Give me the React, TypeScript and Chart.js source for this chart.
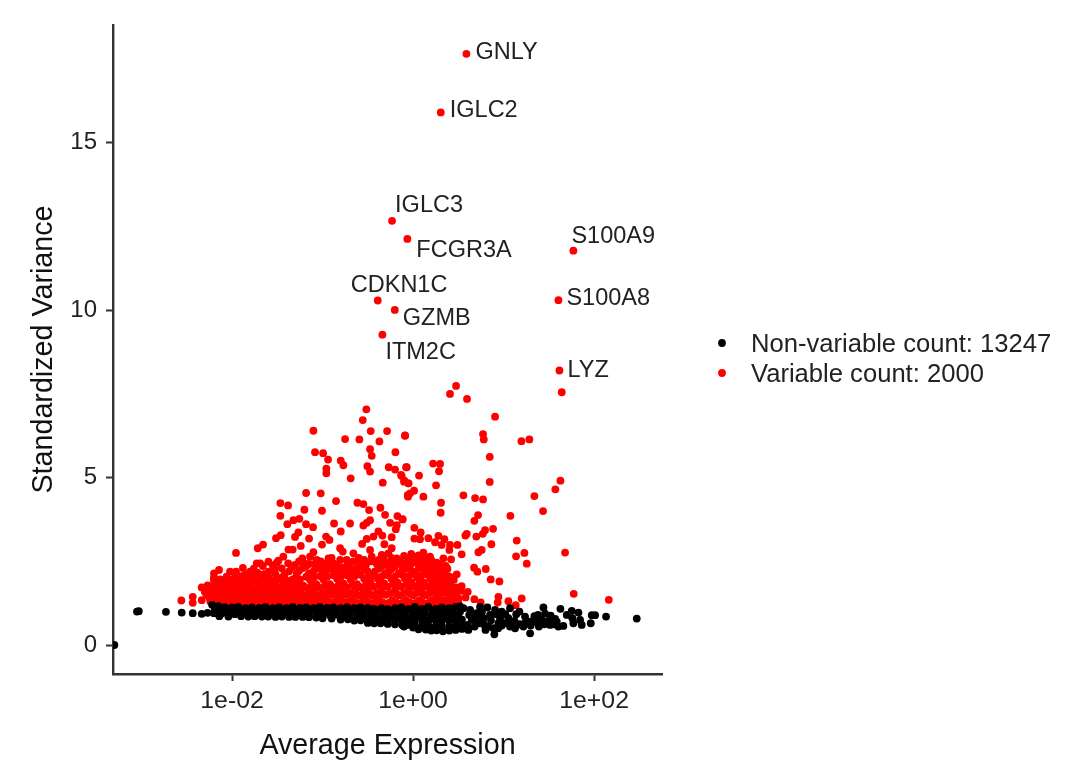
import React, { useEffect, useRef } from "react";
import { Chart, registerables } from "chart.js";

Chart.register(...registerables);

// x = log10(average expression), y = standardized variance
const xTickLabels: Record<number, string> = { [-2]: "1e-02", [0]: "1e+00", [2]: "1e+02" };
const yTicks = [0, 5, 10, 15];

const legendNames = ["Non-variable count: 13247", "Variable count: 2000"];

const geneNames = ["GNLY", "IGLC2", "IGLC3", "FCGR3A", "S100A9", "CDKN1C", "S100A8", "GZMB", "ITM2C", "LYZ"];
const genePoints: number[][] = [
  [0.589, 17.66], [0.306, 15.91], [-0.232, 12.67], [-0.063, 12.13], [1.771, 11.78],
  [-0.39, 10.29], [1.606, 10.3], [-0.202, 10.01], [-0.339, 9.27], [1.617, 8.2],
];
const geneLabelOffsets: number[][] = [
  [9, -1], [9, -2], [3, -15], [9, 12], [-2, -14], [-27, -15], [8, -2], [8, 9], [3, 18], [8, 0],
];

const variableSparse: number[][] = [
  [0.475, 7.74], [1.642, 7.55], [0.408, 7.5], [0.596, 7.35], [0.906, 6.82], [-0.089, 6.25], [0.773, 6.3], [0.781, 6.14],
  [1.197, 6.09], [1.285, 6.14], [0.847, 5.62], [0.221, 5.42], [0.298, 5.41], [0.287, 5.19], [-0.07, 5.31], [0.066, 5.06],
  [-0.126, 5.05], [-0.052, 4.83], [-0.1, 4.88], [0.254, 4.77], [0.847, 4.87], [1.628, 4.91], [1.572, 4.65], [0.011, 4.61],
  [-0.033, 4.53], [-0.056, 4.43], [0.114, 4.43], [0.556, 4.47], [0.685, 4.39], [0.773, 4.35], [1.34, 4.45], [0.309, 4.25],
  [1.436, 4.0], [0.305, 3.95], [1.075, 3.86], [0.718, 3.88], [0.677, 3.71], [-0.115, 3.75], [0.884, 3.47], [0.014, 3.5],
  [0.795, 3.43], [0.77, 3.32], [0.084, 3.36], [0.593, 3.32], [0.578, 3.27], [0.699, 3.24], [0.014, 3.18], [0.077, 3.16],
  [0.169, 3.19], [0.28, 3.26], [0.346, 3.16], [0.243, 3.07], [0.316, 2.99], [0.49, 2.99], [0.408, 2.99], [0.401, 2.84],
  [1.145, 3.12], [0.865, 3.01], [0.758, 2.84], [0.722, 2.77], [0.537, 2.71], [0.114, 2.76], [1.23, 2.75], [1.138, 2.65],
  [1.679, 2.76], [1.256, 2.43], [0.335, 2.59], [0.42, 2.56], [0.187, 2.64], [0.674, 2.31], [0.711, 2.19], [0.803, 2.27],
  [0.858, 1.96], [0.954, 1.9], [0.482, 2.11], [0.537, 1.76], [0.482, 1.72], [0.604, 1.59], [0.677, 1.37], [0.747, 1.27],
  [0.943, 1.44], [0.935, 1.27], [1.053, 1.31], [1.134, 1.19], [1.2, 1.39], [1.775, 1.53], [2.162, 1.35], [0.5, 1.27],
  [-0.516, 7.04], [-0.556, 6.72], [-1.101, 6.4], [-0.468, 6.39], [-0.287, 6.39], [-0.088, 6.26], [-0.751, 6.15], [-0.593, 6.14],
  [-0.372, 6.08], [-0.475, 5.85], [-0.195, 5.76], [-1.083, 5.76], [-0.994, 5.73], [-0.457, 5.65], [-0.939, 5.54], [-0.799, 5.51],
  [-0.77, 5.37], [-0.505, 5.34], [-0.475, 5.18], [-0.269, 5.31], [-0.199, 5.24], [-0.077, 5.31], [-0.958, 5.27], [-0.958, 5.13],
  [-0.689, 4.98], [-0.133, 5.08], [-0.096, 4.91], [-0.335, 4.85], [-0.05, 4.83], [-1.182, 4.54], [-1.02, 4.53], [-0.059, 4.48],
  [-0.851, 4.3], [-1.466, 4.24], [-1.381, 4.17], [-0.615, 4.25], [-0.549, 4.21], [-1.201, 4.04], [-1.006, 4.01], [-0.486, 4.03],
  [-0.361, 4.1], [-0.309, 3.89], [-1.466, 3.86], [-0.173, 3.85], [-0.118, 3.76], [-1.256, 3.77], [-1.322, 3.73], [-1.389, 3.61],
  [-1.182, 3.61], [-1.105, 3.52], [-0.873, 3.63], [-0.696, 3.63], [-0.475, 3.73], [-0.512, 3.65], [-0.549, 3.57], [-0.254, 3.65],
  [-0.18, 3.58], [-0.191, 3.46], [-0.799, 3.39], [-0.383, 3.39], [-0.339, 3.27], [-0.236, 3.22], [-1.267, 3.36], [-1.304, 3.23],
  [-1.462, 3.28], [-1.514, 3.19], [-1.149, 3.18], [-0.961, 3.24], [-0.924, 3.14], [-0.438, 3.24], [-0.512, 3.17], [-0.563, 3.02],
  [-0.317, 3.01], [-1.657, 3.0], [-1.716, 2.89], [-1.241, 2.96], [-1.006, 3.0], [-1.956, 2.75], [-1.377, 2.85], [-1.33, 2.85],
  [-1.101, 2.77], [-2.56, 1.33], [-2.434, 1.44], [-2.434, 1.26], [-2.335, 1.72], [-2.335, 1.34], [-2.26, 1.74],
];

const variableUpper: number[][] = [
  [-2.144, 2.24], [-2.199, 2.14], [-2.022, 2.19], [-1.956, 2.19], [-1.801, 2.19], [-1.727, 2.44], [-1.69, 2.44], [-1.598, 2.49],
  [-1.598, 2.19], [-1.506, 2.46], [-1.451, 2.29], [-1.433, 2.64], [-1.488, 2.52], [-1.304, 2.39], [-1.285, 2.14], [-1.223, 2.59],
  [-1.138, 2.64], [-1.064, 2.54], [-0.935, 2.59], [-0.806, 2.89], [-0.777, 2.79], [-0.806, 2.54], [-0.733, 2.54], [-0.659, 2.74],
  [-0.586, 2.44], [-0.475, 2.84], [-0.457, 2.64], [-0.328, 2.59], [-0.273, 2.74], [-0.236, 2.89], [-0.18, 2.59], [-0.07, 2.44],
  [-0.346, 2.69], [-1.15, 2.42], [-1.0, 2.38], [-0.88, 2.44], [-0.7, 2.36], [-0.62, 2.3], [-0.52, 2.4], [-0.4, 2.42],
  [-0.28, 2.4], [-0.22, 2.48], [-0.12, 2.38], [0.0, 2.56], [0.04, 2.46], [-0.03, 2.4], [0.1, 2.42], [0.17, 2.4], [0.24, 2.34], [0.32, 2.3],
  [-0.05, 2.6], [0.02, 2.62], [0.08, 2.58], [0.16, 2.5], [0.26, 2.46], [-0.14, 2.52],
  [-1.88, 2.3], [-1.76, 2.28], [-1.66, 2.36], [-1.55, 2.38], [-1.38, 2.44], [-1.26, 2.5], [-1.2, 2.44], [-1.08, 2.44], [-1.02, 2.5], [-0.95, 2.44],
  [-0.9, 2.6], [-0.84, 2.38], [-0.72, 2.46], [-0.66, 2.5], [-0.6, 2.6], [-0.54, 2.54], [-0.46, 2.5], [-0.38, 2.54], [-0.3, 2.46], [-0.24, 2.6],
  [-0.16, 2.46], [-0.1, 2.66], [-0.02, 2.72], [0.06, 2.68], [0.12, 2.6], [0.2, 2.54], [0.3, 2.4], [0.36, 2.36], [0.38, 2.28], [0.13, 2.34],
];

const variableDense: number[][] = [
  [-2.2, 2.02], [-2.13, 1.96], [-2.06, 2.04], [-1.98, 1.98], [-1.9, 2.06], [-1.83, 1.98], [-1.76, 2.08], [-1.68, 2.0], [-1.6, 2.04],
  [-1.52, 2.12], [-1.45, 2.02], [-1.37, 2.2], [-1.3, 2.0], [-1.22, 2.3], [-1.15, 2.14], [-1.08, 2.28], [-1.0, 2.16], [-0.93, 2.3], [-0.85, 2.16],
  [-0.77, 2.32], [-0.7, 2.14], [-0.62, 2.16], [-0.54, 2.26], [-0.46, 2.1], [-0.38, 2.28], [-0.31, 2.14], [-0.24, 2.26], [-0.16, 2.14], [-0.08, 2.28],
  [-0.01, 2.2], [0.06, 2.28], [0.13, 2.16], [0.2, 2.24], [0.27, 2.14], [0.34, 2.18], [0.39, 2.06],
  [-2.27, 1.78], [-2.19, 1.84], [-2.12, 1.76], [-2.04, 1.86], [-1.97, 1.78], [-1.89, 1.86], [-1.82, 1.76], [-1.74, 1.88], [-1.67, 1.8], [-1.59, 1.86],
  [-1.52, 1.78], [-1.44, 1.9], [-1.37, 1.8], [-1.29, 1.88], [-1.22, 1.78], [-1.14, 1.96], [-1.07, 1.82], [-0.99, 1.96], [-0.92, 1.82], [-0.84, 1.98],
  [-0.77, 1.84], [-0.69, 1.96], [-0.62, 1.82], [-0.54, 1.98], [-0.47, 1.86], [-0.39, 1.98], [-0.32, 1.84], [-0.24, 1.98], [-0.17, 1.86], [-0.09, 1.98],
  [-0.02, 1.88], [0.05, 2.0], [0.12, 1.86], [0.19, 1.98], [0.26, 1.88], [0.33, 1.96], [0.4, 1.84], [0.45, 1.95],
  [-2.3, 1.58], [-2.23, 1.62], [-2.15, 1.56], [-2.08, 1.64], [-2.0, 1.56], [-1.93, 1.66], [-1.85, 1.58], [-1.78, 1.66], [-1.7, 1.58], [-1.63, 1.66],
  [-1.55, 1.58], [-1.48, 1.68], [-1.4, 1.58], [-1.33, 1.66], [-1.25, 1.58], [-1.18, 1.7], [-1.1, 1.6], [-1.03, 1.7], [-0.95, 1.6], [-0.88, 1.72],
  [-0.8, 1.62], [-0.73, 1.72], [-0.65, 1.6], [-0.58, 1.72], [-0.5, 1.62], [-0.43, 1.74], [-0.35, 1.62], [-0.28, 1.74], [-0.2, 1.62], [-0.13, 1.74],
  [-0.05, 1.62], [0.02, 1.76], [0.09, 1.62], [0.16, 1.74], [0.23, 1.62], [0.3, 1.72], [0.37, 1.62], [0.44, 1.68], [0.53, 1.62],
  [-2.25, 1.42], [-2.18, 1.38], [-2.1, 1.44], [-2.03, 1.38], [-1.95, 1.44], [-1.88, 1.38], [-1.8, 1.46], [-1.73, 1.38], [-1.65, 1.46], [-1.58, 1.38],
  [-1.5, 1.46], [-1.43, 1.38], [-1.35, 1.46], [-1.28, 1.38], [-1.2, 1.48], [-1.13, 1.38], [-1.05, 1.48], [-0.98, 1.38], [-0.9, 1.5], [-0.83, 1.38],
  [-0.75, 1.5], [-0.68, 1.36], [-0.6, 1.48], [-0.53, 1.36], [-0.45, 1.48], [-0.38, 1.36], [-0.3, 1.5], [-0.23, 1.34], [-0.15, 1.48], [-0.08, 1.34],
  [0.0, 1.48], [0.07, 1.34], [0.14, 1.48], [0.21, 1.34], [0.28, 1.46], [0.35, 1.34], [0.42, 1.44], [0.5, 1.4], [0.58, 1.42],
  [-2.2, 1.2], [-2.12, 1.22], [-2.05, 1.2], [-1.97, 1.22], [-1.9, 1.2], [-1.82, 1.22], [-1.75, 1.2], [-1.67, 1.22], [-1.6, 1.2], [-1.52, 1.22],
  [-1.45, 1.2], [-1.37, 1.22], [-1.3, 1.2], [-1.22, 1.22], [-1.15, 1.2], [-1.07, 1.22], [-1.0, 1.2], [-0.92, 1.22], [-0.85, 1.2], [-0.77, 1.22],
  [-0.7, 1.2], [-0.62, 1.2], [-0.55, 1.18], [-0.47, 1.2], [-0.4, 1.18], [-0.32, 1.2], [-0.25, 1.18], [-0.17, 1.2], [-0.1, 1.18], [-0.02, 1.2],
  [0.05, 1.18], [0.12, 1.2], [0.2, 1.18], [0.27, 1.2], [0.34, 1.18], [0.42, 1.2],
];

const variableFill: number[][] = [
  [-2.24, 1.3], [-2.14, 1.31], [-2.06, 1.29], [-1.99, 1.32], [-1.92, 1.29], [-1.84, 1.31], [-1.77, 1.3], [-1.69, 1.31], [-1.62, 1.29], [-1.54, 1.32],
  [-1.47, 1.29], [-1.39, 1.31], [-1.32, 1.29], [-1.24, 1.32], [-1.17, 1.29], [-1.09, 1.31], [-1.02, 1.29], [-0.94, 1.31], [-0.87, 1.29], [-0.79, 1.31],
  [-0.72, 1.29], [-0.64, 1.28], [-0.57, 1.27], [-0.49, 1.28], [-0.42, 1.27], [-0.34, 1.28], [-0.27, 1.26], [-0.19, 1.28], [-0.12, 1.26], [-0.04, 1.27],
  [0.03, 1.26], [0.1, 1.27], [0.17, 1.26], [0.24, 1.27], [0.31, 1.26], [0.38, 1.27], [0.46, 1.3],
  [-2.28, 1.5], [-2.2, 1.52], [-2.13, 1.5], [-2.05, 1.51], [-1.98, 1.49], [-1.9, 1.52], [-1.83, 1.5], [-1.75, 1.52], [-1.68, 1.5], [-1.6, 1.52],
  [-1.53, 1.5], [-1.45, 1.53], [-1.38, 1.5], [-1.3, 1.52], [-1.23, 1.5], [-1.15, 1.54], [-1.08, 1.5], [-1.0, 1.54], [-0.93, 1.5], [-0.85, 1.55],
  [-0.78, 1.53], [-0.7, 1.55], [-0.63, 1.52], [-0.55, 1.54], [-0.48, 1.52], [-0.4, 1.55], [-0.33, 1.52], [-0.25, 1.55], [-0.18, 1.52], [-0.1, 1.55],
  [-0.03, 1.53], [0.04, 1.56], [0.11, 1.53], [0.18, 1.55], [0.25, 1.53], [0.32, 1.55], [0.39, 1.53], [0.47, 1.54],
  [-2.25, 1.7], [-2.17, 1.7], [-2.1, 1.71], [-2.02, 1.7], [-1.95, 1.72], [-1.87, 1.7], [-1.8, 1.72], [-1.72, 1.7], [-1.65, 1.73], [-1.57, 1.71],
  [-1.5, 1.73], [-1.42, 1.72], [-1.35, 1.73], [-1.27, 1.72], [-1.2, 1.74], [-1.12, 1.78], [-1.05, 1.74], [-0.97, 1.78], [-0.9, 1.74], [-0.82, 1.8],
  [-0.75, 1.74], [-0.67, 1.8], [-0.6, 1.74], [-0.52, 1.8], [-0.45, 1.75], [-0.37, 1.8], [-0.3, 1.75], [-0.22, 1.82], [-0.15, 1.76], [-0.07, 1.82],
  [0.0, 1.75], [0.07, 1.82], [0.14, 1.76], [0.21, 1.82], [0.28, 1.76], [0.35, 1.8], [0.42, 1.76],
  [-2.2, 1.92], [-2.11, 1.88], [-2.02, 1.94], [-1.94, 1.92], [-1.86, 1.9], [-1.78, 1.94], [-1.7, 1.92], [-1.63, 1.94], [-1.55, 1.92], [-1.48, 1.96],
  [-1.4, 1.94], [-1.33, 1.96], [-1.25, 1.96], [-1.18, 2.04], [-1.1, 2.02], [-1.03, 2.06], [-0.95, 2.04], [-0.88, 2.08], [-0.8, 2.04], [-0.73, 2.08],
  [-0.65, 2.04], [-0.58, 2.1], [-0.5, 2.02], [-0.43, 2.06], [-0.35, 2.04], [-0.28, 2.08], [-0.2, 2.04], [-0.12, 2.1], [-0.05, 2.06], [0.02, 2.1],
  [0.09, 2.06], [0.16, 2.1], [0.23, 2.04], [0.3, 2.06], [0.37, 1.98], [0.43, 2.02],
  [-1.95, 2.08], [-1.85, 2.1], [-1.72, 2.16], [-1.65, 2.12], [-1.53, 2.28], [-1.42, 2.12], [-1.34, 2.32], [-1.26, 2.22], [-1.18, 2.36], [-1.1, 2.2],
  [-1.03, 2.3], [-0.96, 2.22], [-0.88, 2.24], [-0.8, 2.2], [-0.73, 2.26], [-0.66, 2.24], [-0.58, 2.36], [-0.5, 2.2], [-0.42, 2.2], [-0.34, 2.36],
  [-0.27, 2.2], [-0.2, 2.34], [-0.12, 2.22], [-0.04, 2.34], [0.03, 2.18], [0.09, 2.36], [0.16, 2.3], [0.23, 2.16], [0.3, 2.22],
];

const nonVariableSparse: number[][] = [
  [-3.3, 0.0], [-3.05, 1.0], [-3.03, 1.01], [-2.73, 0.99], [-2.556, 0.97], [-2.434, 0.95], [-2.335, 0.93], [-2.27, 0.96],
  [2.471, 0.79], [2.132, 0.85], [2.011, 0.89], [1.974, 0.89], [1.963, 0.65], [1.863, 0.6], [1.771, 0.65], [1.827, 0.97],
  [1.753, 1.02], [1.698, 0.9], [1.76, 0.8], [1.845, 0.75], [1.628, 1.08], [1.44, 1.12], [1.458, 0.94], [1.513, 0.8],
  [1.587, 0.7], [1.66, 0.57], [1.605, 0.55], [1.513, 0.6], [1.421, 0.75], [1.348, 0.7], [1.293, 0.35], [1.285, 0.7],
  [1.237, 0.85], [1.175, 1.0], [1.219, 0.55], [1.127, 0.5], [1.071, 0.55], [1.053, 0.8], [1.071, 1.1], [0.979, 1.0],
  [0.961, 0.8], [1.0, 0.65], [0.898, 0.32], [0.887, 0.5], [0.821, 1.12], [0.74, 1.14], [0.703, 0.95], [0.777, 0.8],
  [0.85, 0.9], [0.906, 1.05], [0.943, 0.65], [0.832, 0.55], [0.722, 0.65], [0.63, 1.05], [0.648, 0.75], [0.611, 0.45],
  [0.556, 1.1], [0.519, 1.15], [1.39, 0.55], [1.45, 0.62], [1.55, 0.62],
  [0.62, 0.9], [0.68, 0.55], [0.7, 0.82], [0.76, 0.98], [0.78, 0.62], [0.8, 0.45], [0.86, 0.74], [0.92, 0.92], [0.94, 0.5], [0.98, 0.58],
  [1.02, 0.92], [1.08, 0.66], [1.12, 0.72], [1.14, 0.92], [1.18, 0.62], [1.24, 0.66], [1.3, 0.58], [1.34, 0.86], [1.38, 0.9], [1.48, 0.7],
  [1.52, 0.88], [1.57, 0.78],
];

const nonVariableDense: number[][] = [
  [-2.22, 1.2], [-2.15, 1.16], [-2.08, 1.13], [-2.0, 1.12], [-1.93, 1.14], [-1.85, 1.1], [-1.78, 1.12], [-1.7, 1.11], [-1.63, 1.14], [-1.55, 1.1],
  [-1.48, 1.13], [-1.4, 1.1], [-1.33, 1.14], [-1.25, 1.11], [-1.18, 1.12], [-1.1, 1.1], [-1.03, 1.14], [-0.95, 1.11], [-0.88, 1.12], [-0.8, 1.1],
  [-0.73, 1.13], [-0.65, 1.1], [-0.58, 1.12], [-0.5, 1.11], [-0.43, 1.08], [-0.35, 1.1], [-0.28, 1.07], [-0.2, 1.1], [-0.13, 1.12], [-0.05, 1.08],
  [0.02, 1.14], [0.1, 1.08], [0.17, 1.14], [0.25, 1.08], [0.32, 1.12], [0.4, 1.1], [0.47, 1.14],
  [-2.19, 1.04], [-2.11, 1.05], [-2.04, 1.04], [-1.96, 1.05], [-1.89, 1.03], [-1.81, 1.04], [-1.74, 1.03], [-1.66, 1.04], [-1.59, 1.02], [-1.51, 1.03],
  [-1.44, 1.02], [-1.36, 1.03], [-1.29, 1.02], [-1.21, 1.03], [-1.14, 1.02], [-1.06, 1.02], [-0.99, 1.01], [-0.91, 1.02], [-0.84, 1.0], [-0.76, 1.01],
  [-0.69, 1.0], [-0.61, 1.0], [-0.54, 0.99], [-0.46, 0.99], [-0.39, 0.98], [-0.31, 0.98], [-0.24, 0.98], [-0.16, 0.97], [-0.09, 0.98], [-0.01, 0.97],
  [0.06, 0.98], [0.13, 0.97], [0.21, 0.98], [0.28, 0.97], [0.36, 0.98], [0.44, 0.98], [0.52, 1.0],
  [-2.2, 0.95], [-2.12, 0.93], [-2.05, 0.95], [-1.97, 0.92], [-1.9, 0.94], [-1.82, 0.92], [-1.75, 0.94], [-1.67, 0.92], [-1.6, 0.94], [-1.52, 0.91],
  [-1.45, 0.93], [-1.37, 0.91], [-1.3, 0.93], [-1.22, 0.91], [-1.15, 0.93], [-1.07, 0.9], [-1.0, 0.92], [-0.92, 0.9], [-0.85, 0.91], [-0.77, 0.88],
  [-0.7, 0.9], [-0.62, 0.87], [-0.55, 0.88], [-0.47, 0.86], [-0.4, 0.87], [-0.32, 0.85], [-0.25, 0.86], [-0.17, 0.84], [-0.1, 0.85], [-0.02, 0.84],
  [0.05, 0.85], [0.12, 0.83], [0.2, 0.85], [0.27, 0.83], [0.34, 0.85], [0.42, 0.84], [0.5, 0.88],
  [-2.14, 0.86], [-2.04, 0.85], [-1.9, 0.86], [-1.82, 0.85], [-1.75, 0.86], [-1.67, 0.85], [-1.6, 0.85], [-1.52, 0.84], [-1.45, 0.85], [-1.37, 0.84],
  [-1.3, 0.84], [-1.22, 0.84], [-1.15, 0.83], [-1.07, 0.82], [-1.0, 0.8], [-0.9, 0.79], [-0.8, 0.76], [-0.72, 0.77],
  [-0.65, 0.73], [-0.58, 0.74], [-0.5, 0.72], [-0.43, 0.73], [-0.36, 0.73], [-0.28, 0.72], [-0.2, 0.73], [-0.12, 0.72], [-0.05, 0.73], [0.02, 0.72],
  [0.1, 0.73], [0.17, 0.72], [0.25, 0.73], [0.32, 0.72], [0.4, 0.73], [0.47, 0.72], [0.54, 0.76],
  [-0.5, 0.66], [-0.43, 0.65], [-0.36, 0.65], [-0.28, 0.63], [-0.2, 0.62], [-0.12, 0.6], [-0.05, 0.6], [0.02, 0.59], [0.1, 0.58], [0.17, 0.56],
  [0.25, 0.56], [0.32, 0.55], [0.4, 0.56], [0.47, 0.55], [0.54, 0.58], [0.6, 0.6],
  [-0.1, 0.55], [0.0, 0.52], [0.06, 0.47], [0.14, 0.46], [0.2, 0.43], [0.26, 0.44], [0.33, 0.41], [0.4, 0.43], [0.47, 0.45], [0.54, 0.48],
];

const VariablePoints = [...variableSparse, ...variableUpper, ...variableDense, ...variableFill, ...genePoints];
const NonVariablePoints = [...nonVariableSparse, ...nonVariableDense];

const FONT = "'Liberation Sans', Arial, sans-serif";
const INK = "#222222";
const AXIS = "#333333";

const geneLabelPlugin = {
  id: "geneLabels",
  afterDatasetsDraw(chart: any) {
    const { ctx, scales } = chart;
    ctx.save();
    ctx.font = `23.5px ${FONT}`;
    ctx.fillStyle = INK;
    ctx.textAlign = "left";
    ctx.textBaseline = "middle";
    geneNames.forEach((name, i) => {
      const px = scales.x.getPixelForValue(genePoints[i][0]);
      const py = scales.y.getPixelForValue(genePoints[i][1]);
      ctx.fillText(name, px + geneLabelOffsets[i][0], py + geneLabelOffsets[i][1]);
    });
    ctx.restore();
  },
};

const legendBlockPlugin = {
  id: "legendBlock",
  afterDraw(chart: any) {
    const { ctx } = chart;
    ctx.save();
    ctx.font = `25.6px ${FONT}`;
    ctx.textAlign = "left";
    ctx.textBaseline = "middle";
    chart.data.datasets.forEach((ds: any, i: number) => {
      const cy = 343 + i * 30;
      ctx.beginPath();
      ctx.arc(722, cy, 3.9, 0, Math.PI * 2);
      ctx.fillStyle = ds.backgroundColor;
      ctx.fill();
      ctx.fillStyle = INK;
      ctx.fillText(ds.label, 751, cy + 1.5);
    });
    ctx.restore();
  },
};

export default function App() {
  const ref = useRef<HTMLCanvasElement | null>(null);
  useEffect(() => {
    const chart = new Chart(ref.current as HTMLCanvasElement, {
      type: "scatter",
      data: {
        datasets: [
          {
            label: legendNames[0],
            data: NonVariablePoints.map(([x, y]) => ({ x, y })),
            backgroundColor: "#000000",
            borderColor: "#000000",
            pointRadius: 3.9,
            pointBorderWidth: 0,
          },
          {
            label: legendNames[1],
            data: VariablePoints.map(([x, y]) => ({ x, y })),
            backgroundColor: "#ff0000",
            borderColor: "#ff0000",
            pointRadius: 3.9,
            pointBorderWidth: 0,
          },
        ],
      },
      options: {
        responsive: false,
        animation: false,
        layout: { padding: { top: 25, left: 0, bottom: 0, right: 418 } },
        plugins: {
          tooltip: { enabled: false },
          legend: { display: false },
        },
        scales: {
          x: {
            type: "linear",
            min: -3.315,
            max: 2.75,
            border: { color: AXIS, width: 2.4 },
            grid: { display: true, drawOnChartArea: false, drawTicks: true, tickLength: 7, tickColor: AXIS, tickWidth: 2 },
            afterBuildTicks(axis: any) {
              axis.ticks = Object.keys(xTickLabels).map((v) => ({ value: Number(v) }));
            },
            afterFit(axis: any) {
              axis.height = 89;
            },
            ticks: {
              autoSkip: false,
              maxRotation: 0,
              padding: 5,
              color: INK,
              font: { family: FONT, size: 24.8 },
              callback: (v: any) => xTickLabels[Number(v)] ?? "",
            },
            title: {
              display: true,
              text: "Average Expression",
              color: "#111111",
              font: { family: FONT, size: 28.7 },
              padding: { top: 5, bottom: 0 },
            },
          },
          y: {
            type: "linear",
            min: -0.866,
            max: 18.52,
            border: { color: AXIS, width: 2.4 },
            grid: { display: true, drawOnChartArea: false, drawTicks: true, tickLength: 7, tickColor: AXIS, tickWidth: 2 },
            afterBuildTicks(axis: any) {
              axis.ticks = yTicks.map((value) => ({ value }));
            },
            afterFit(axis: any) {
              axis.width = 113;
            },
            ticks: {
              autoSkip: false,
              padding: 9,
              color: INK,
              font: { family: FONT, size: 24 },
            },
            title: {
              display: true,
              text: "Standardized Variance",
              color: "#111111",
              font: { family: FONT, size: 28.7 },
              padding: { top: 27, bottom: 0 },
            },
          },
        },
      },
      plugins: [geneLabelPlugin, legendBlockPlugin],
    } as any);
    return () => chart.destroy();
  }, []);
  return (
    <div style={{ position: "absolute", left: 0, top: 0, width: 1080, height: 763, background: "#ffffff" }}>
      <canvas ref={ref} width={1080} height={763} style={{ display: "block", filter: "blur(0.4px)" }} />
    </div>
  );
}
